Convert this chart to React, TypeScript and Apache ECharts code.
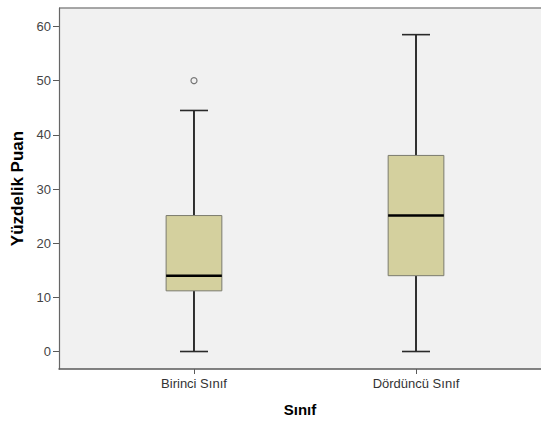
import React, { useEffect, useRef } from "react";
import * as echarts from "echarts";

const categories = ["Birinci Sınıf", "Dördüncü Sınıf"];
const whiskerLow = [0, 0];
const quartile1 = [11.2, 14];
const medians = [14, 25.1];
const quartile3 = [25.1, 36.2];
const whiskerHigh = [44.5, 58.5];
const outliers: [number, number][] = [[0, 50]]; // [category index, value]
const yTicks = [0, 10, 20, 30, 40, 50, 60];

const FONT = "'Liberation Sans', Arial, sans-serif";

export default function App() {
  const ref = useRef<HTMLDivElement>(null);
  useEffect(() => {
    if (!ref.current) return;
    const chart = echarts.init(ref.current, undefined, { renderer: "svg" });
    const boxData = categories.map((_, i) => [
      i + 1,
      whiskerLow[i],
      quartile1[i],
      medians[i],
      quartile3[i],
      whiskerHigh[i],
    ]);
    const outlierData = outliers.map(([ci, v]) => [ci + 1, v]);
    chart.setOption({
      animation: false,
      backgroundColor: "#ffffff",
      grid: {
        left: 59,
        right: 0,
        top: 8,
        bottom: 53,
        show: true,
        backgroundColor: "#f1f1f1",
        borderWidth: 0,
      },
      xAxis: {
        type: "value",
        min: 0.392,
        max: 2.563,
        name: "Sınıf",
        nameLocation: "middle",
        nameGap: 33,
        nameTextStyle: { fontFamily: FONT, fontWeight: "bold", fontSize: 15, color: "#000" },
        axisLine: { show: true, onZero: false, lineStyle: { color: "#5a5a5a", width: 1.5 } },
        axisTick: { show: true, length: 5, customValues: [1, 2], lineStyle: { color: "#5a5a5a" } },
        axisLabel: {
          customValues: [1, 2],
          formatter: (v: number) => categories[Math.round(v) - 1] ?? "",
          fontFamily: FONT,
          fontSize: 13,
          color: "#333",
          margin: 8,
        },
        splitLine: { show: false },
      },
      yAxis: {
        type: "value",
        min: -3.23,
        max: 63.42,
        name: "Yüzdelik Puan",
        nameLocation: "middle",
        nameGap: 33,
        nameTextStyle: { fontFamily: FONT, fontWeight: "bold", fontSize: 17, color: "#000" },
        axisLine: { show: true, onZero: false, lineStyle: { color: "#666", width: 1.2 } },
        axisTick: { show: true, length: 6, customValues: yTicks, lineStyle: { color: "#5a5a5a" } },
        axisLabel: {
          customValues: yTicks,
          fontFamily: FONT,
          fontSize: 13,
          color: "#444",
          margin: 8,
        },
        splitLine: { show: false },
      },
      graphic: [
        {
          type: "line",
          shape: { x1: 59, y1: 8, x2: 541, y2: 8 },
          style: { stroke: "#8a8a8a", lineWidth: 1.5 },
        },
      ],
      series: [
        {
          type: "custom",
          data: boxData,
          renderItem: (params: any, api: any) => {
            const x = api.value(0);
            const lo = api.coord([x, api.value(1)]);
            const q1 = api.coord([x, api.value(2)]);
            const med = api.coord([x, api.value(3)]);
            const q3 = api.coord([x, api.value(4)]);
            const hi = api.coord([x, api.value(5)]);
            const bw = api.size([0.251, 0])[0];
            const cw = api.size([0.126, 0])[0];
            const cx = lo[0];
            return {
              type: "group",
              children: [
                { type: "line", shape: { x1: cx, y1: hi[1], x2: cx, y2: q3[1] }, style: { stroke: "#000", lineWidth: 1.6 } },
                { type: "line", shape: { x1: cx, y1: q1[1], x2: cx, y2: lo[1] }, style: { stroke: "#000", lineWidth: 1.6 } },
                { type: "line", shape: { x1: cx - cw / 2, y1: hi[1], x2: cx + cw / 2, y2: hi[1] }, style: { stroke: "#2a2a2a", lineWidth: 1.6 } },
                { type: "line", shape: { x1: cx - cw / 2, y1: lo[1], x2: cx + cw / 2, y2: lo[1] }, style: { stroke: "#2a2a2a", lineWidth: 1.6 } },
                {
                  type: "rect",
                  shape: { x: cx - bw / 2, y: q3[1], width: bw, height: q1[1] - q3[1] },
                  style: { fill: "#d4d09e", stroke: "#7b7b6e", lineWidth: 1 },
                },
                { type: "line", shape: { x1: cx - bw / 2, y1: med[1], x2: cx + bw / 2, y2: med[1] }, style: { stroke: "#000", lineWidth: 2.6 } },
              ],
            };
          },
        },
        {
          type: "scatter",
          data: outlierData,
          symbol: "circle",
          symbolSize: 6,
          itemStyle: { color: "#f1f1f1", borderColor: "#555", borderWidth: 1.2 },
        },
      ],
    });
    return () => chart.dispose();
  }, []);
  return <div ref={ref} style={{ width: 541, height: 422, position: "absolute", left: 0, top: 0 }} />;
}
